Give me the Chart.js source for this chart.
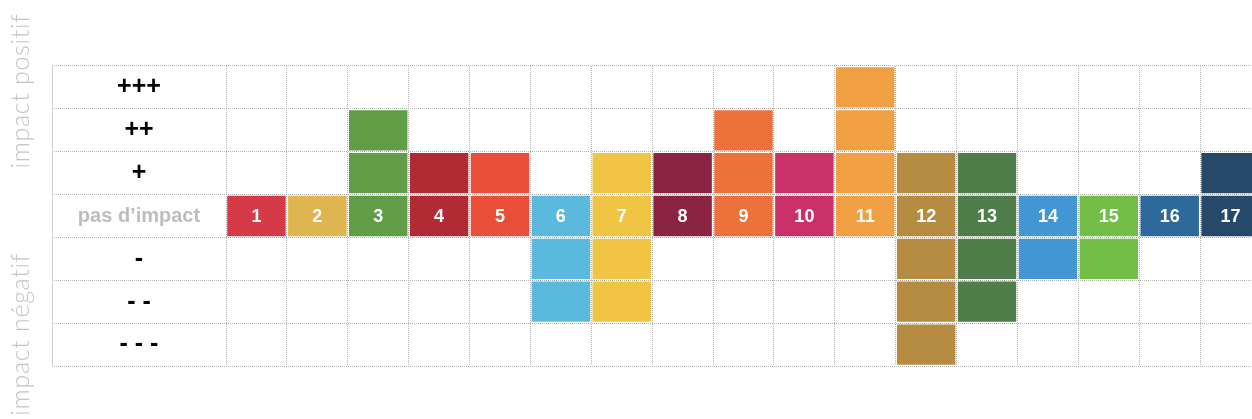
<!DOCTYPE html>
<html lang="fr">
<head>
<meta charset="utf-8">
<title>Impact ODD</title>
<script src="https://cdn.jsdelivr.net/npm/chart.js@4.4.1/dist/chart.umd.min.js"></script>
<style>
  html, body { margin: 0; padding: 0; background: #fff; overflow: hidden; }
  #wrap { width: 1262px; height: 419px; }
</style>
</head>
<body>
<div id="wrap"><canvas id="oddChart" width="1262" height="419"></canvas></div>
<script>
// objectifs (colonnes)
var goals = ["1", "2", "3", "4", "5", "6", "7", "8", "9", "10", "11", "12", "13", "14", "15", "16", "17"];
var goalColors = [
  "#d63a46", "#deb54e", "#619c46", "#b12b34", "#e94f38", "#5cb9de",
  "#f1c444", "#8b2443", "#ec713b", "#cb3169", "#f0a043", "#b68b42",
  "#4f7e4a", "#4395d4", "#72be47", "#2d699a", "#264869"
];
// nombre de niveaux d'impact positif / négatif par objectif
var positiveImpact = [0, 0, 2, 1, 1, 0, 1, 1, 2, 1, 3, 1, 1, 0, 0, 0, 1];
var negativeImpact = [0, 0, 0, 0, 0, 2, 2, 0, 0, 0, 0, 3, 2, 1, 1, 0, 0];
// lignes (de haut en bas)
var levelValues = [3, 2, 1, 0, -1, -2, -3];
var impactLevels = ["+++", "++", "+", "pas d\u2019impact", "-", "- -", "- - -"];

var gridColor = "#b4b4b4";
var labelFont = { family: "Arial, 'Liberation Sans', sans-serif", size: 25, weight: "bold" };
var neutralFont = { family: "Arial, 'Liberation Sans', sans-serif", size: 20, weight: "bold" };
var cellFill = 0.94; // part de la hauteur de la ligne remplie

function levelLabel(value) {
  return impactLevels[levelValues.indexOf(value)];
}

function hasCell(i, level) {
  if (level === 0) return true;
  if (level > 0) return level <= positiveImpact[i];
  return -level <= negativeImpact[i];
}

// largeur du libellé le plus large, pour centrer la colonne des libellés
function widestLabel() {
  var c = document.createElement("canvas").getContext("2d");
  var w = 0;
  levelValues.forEach(function (v) {
    var f = v === 0 ? neutralFont : labelFont;
    c.font = f.weight + " " + f.size + "px " + f.family;
    w = Math.max(w, c.measureText(levelLabel(v)).width);
  });
  return w;
}

var labelColumn = 174;

var datasets = levelValues.map(function (level) {
  return {
    label: levelLabel(level),
    data: goals.map(function (g, i) {
      return hasCell(i, level) ? [level - cellFill / 2, level + cellFill / 2] : null;
    }),
    backgroundColor: goalColors,
    borderWidth: 0,
    grouped: false,
    barPercentage: 0.96,
    categoryPercentage: 1
  };
});

function sideTitle(ctx, text, x, y, align) {
  ctx.save();
  ctx.fillStyle = "#c4c4c4";
  ctx.font = "300 25px Lato, 'Open Sans', sans-serif";
  if ("letterSpacing" in ctx) ctx.letterSpacing = "0.7px";
  ctx.textBaseline = "alphabetic";
  ctx.translate(x, y);
  ctx.rotate(-Math.PI / 2);
  ctx.textAlign = align;
  ctx.fillText(text, 0, 0);
  ctx.restore();
}

// numéros des objectifs dans la ligne "pas d'impact" + titres latéraux
var annotations = {
  id: "annotations",
  afterDatasetsDraw: function (chart) {
    var ctx = chart.ctx;
    var meta = chart.getDatasetMeta(levelValues.indexOf(0));
    ctx.save();
    ctx.fillStyle = "#ffffff";
    ctx.font = "bold 18px Arial, 'Liberation Sans', sans-serif";
    ctx.textAlign = "center";
    ctx.textBaseline = "middle";
    meta.data.forEach(function (bar, i) {
      var p = bar.getCenterPoint();
      ctx.fillText(goals[i], p.x, p.y + 1);
    });
    ctx.restore();
  },
  afterDraw: function (chart) {
    sideTitle(chart.ctx, "impact positif", 29, 91, "center");
    sideTitle(chart.ctx, "impact n\u00e9gatif", 29, 253, "right");
  }
};

var ctx = document.getElementById("oddChart").getContext("2d");
var oddChart = new Chart(ctx, {
  type: "bar",
  data: { labels: goals, datasets: datasets },
  options: {
    responsive: false,
    animation: false,
    layout: { padding: { left: 52, top: 66, bottom: 53, right: 1 } },
    plugins: { legend: { display: false }, tooltip: { enabled: false } },
    scales: {
      x: {
        offset: true,
        grid: { offset: true, color: gridColor, drawTicks: false },
        border: { display: false, dash: [1, 1] },
        ticks: { display: false }
      },
      y: {
        position: "left",
        weight: 0,
        min: -3.5,
        max: 3.5,
        afterBuildTicks: function (scale) {
          scale.ticks = levelValues.slice().reverse().map(function (v) { return { value: v }; });
        },
        afterFit: function (scale) { scale.width = labelColumn; },
        grid: {
          offset: true,
          color: gridColor,
          drawTicks: true,
          tickLength: labelColumn,
          tickColor: gridColor,
          tickBorderDash: [1, 1]
        },
        border: { display: false, dash: [1, 1] },
        ticks: {
          crossAlign: "center",
          padding: -labelColumn / 2 - widestLabel() / 2,
          callback: function (value) { return levelLabel(value); },
          color: function (c) { return c.tick && c.tick.value === 0 ? "#bdbdbd" : "#000000"; },
          font: function (c) { return c.tick && c.tick.value === 0 ? neutralFont : labelFont; }
        }
      },
      frame: {
        type: "linear",
        position: "left",
        weight: 1,
        min: -3.5,
        max: 3.5,
        grid: { display: true, drawOnChartArea: false, drawTicks: false },
        border: { display: true, color: "#cfcfcf", width: 1 },
        ticks: { display: false }
      }
    }
  },
  plugins: [annotations]
});
</script>
</body>
</html>
